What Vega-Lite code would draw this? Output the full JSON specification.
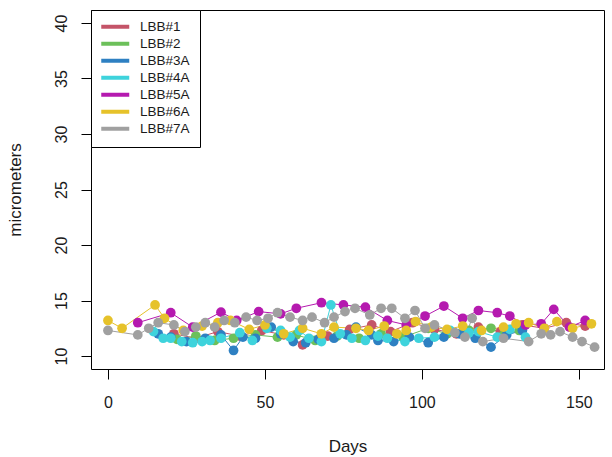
{
 "$schema": "https://vega.github.io/schema/vega-lite/v6.json",
 "width": 513, "height": 359,
 "autosize": {"type": "none"},
 "padding": {"left": 91, "top": 10, "right": 8, "bottom": 88},
 "background": "white",
 "config": {
  "view": {"stroke": "black", "strokeWidth": 1},
  "font": "Liberation Sans",
  "axis": {"domain": false, "grid": false, "tickColor": "black", "tickSize": 10, "labelFont": "Liberation Sans", "labelFontSize": 16, "labelColor": "#1a1a1a", "titleFont": "Liberation Sans", "titleFontSize": 17, "titleFontWeight": "normal", "titleColor": "#1a1a1a", "labelFlush": false},
  "legend": {"orient": "top-left", "offset": 0, "padding": 10, "strokeColor": "black", "fillColor": "white", "symbolType": "M-4,0L4,0", "symbolSize": 49, "symbolStrokeWidth": 4, "symbolOffset": 7.5, "labelFont": "Liberation Sans", "labelFontSize": 13.5, "labelColor": "#1a1a1a", "labelOffset": 18, "rowPadding": 0, "symbolOpacity": 1}
 },
 "data": {"values": [
  {"s":"LBB#1","d":21,"v":12.0},{"s":"LBB#1","d":28,"v":11.6},{"s":"LBB#1","d":35,"v":12.2},{"s":"LBB#1","d":42,"v":11.8},{"s":"LBB#1","d":49,"v":12.3},{"s":"LBB#1","d":56,"v":11.9},{"s":"LBB#1","d":62,"v":11.0},{"s":"LBB#1","d":70,"v":11.8},{"s":"LBB#1","d":77,"v":12.4},{"s":"LBB#1","d":84,"v":12.8},{"s":"LBB#1","d":90,"v":12.2},{"s":"LBB#1","d":97,"v":13.0},{"s":"LBB#1","d":104,"v":12.4},{"s":"LBB#1","d":111,"v":12.0},{"s":"LBB#1","d":118,"v":12.6},{"s":"LBB#1","d":125,"v":12.2},{"s":"LBB#1","d":132,"v":12.8},{"s":"LBB#1","d":139,"v":12.5},{"s":"LBB#1","d":146,"v":13.0},{"s":"LBB#1","d":152,"v":12.7},
  {"s":"LBB#2","d":22,"v":11.5},{"s":"LBB#2","d":28,"v":11.8},{"s":"LBB#2","d":34,"v":11.4},{"s":"LBB#2","d":40,"v":11.6},{"s":"LBB#2","d":47,"v":11.9},{"s":"LBB#2","d":54,"v":11.7},{"s":"LBB#2","d":60,"v":11.9},{"s":"LBB#2","d":66,"v":11.4},{"s":"LBB#2","d":73,"v":11.8},{"s":"LBB#2","d":80,"v":11.6},{"s":"LBB#2","d":87,"v":12.0},{"s":"LBB#2","d":94,"v":11.7},{"s":"LBB#2","d":102,"v":12.5},{"s":"LBB#2","d":108,"v":12.0},{"s":"LBB#2","d":115,"v":12.3},{"s":"LBB#2","d":122,"v":12.5},{"s":"LBB#2","d":126,"v":11.9},{"s":"LBB#2","d":131,"v":12.3},
  {"s":"LBB#3A","d":16,"v":12.0},{"s":"LBB#3A","d":20,"v":11.7},{"s":"LBB#3A","d":25,"v":11.3},{"s":"LBB#3A","d":31,"v":11.6},{"s":"LBB#3A","d":36,"v":11.9},{"s":"LBB#3A","d":40,"v":10.5},{"s":"LBB#3A","d":43,"v":11.7},{"s":"LBB#3A","d":47,"v":11.6},{"s":"LBB#3A","d":52,"v":12.6},{"s":"LBB#3A","d":55,"v":12.0},{"s":"LBB#3A","d":59,"v":11.3},{"s":"LBB#3A","d":63,"v":11.2},{"s":"LBB#3A","d":67,"v":11.5},{"s":"LBB#3A","d":72,"v":11.6},{"s":"LBB#3A","d":76,"v":11.9},{"s":"LBB#3A","d":79,"v":12.6},{"s":"LBB#3A","d":84,"v":11.9},{"s":"LBB#3A","d":86,"v":11.4},{"s":"LBB#3A","d":91,"v":11.3},{"s":"LBB#3A","d":96,"v":11.7},{"s":"LBB#3A","d":102,"v":11.2},{"s":"LBB#3A","d":107,"v":11.7},{"s":"LBB#3A","d":112,"v":12.0},{"s":"LBB#3A","d":117,"v":11.6},{"s":"LBB#3A","d":122,"v":10.8},{"s":"LBB#3A","d":127,"v":11.9},{"s":"LBB#3A","d":132,"v":12.3},
  {"s":"LBB#4A","d":14.5,"v":12.2},{"s":"LBB#4A","d":17.6,"v":11.6},{"s":"LBB#4A","d":20,"v":11.6},{"s":"LBB#4A","d":23.5,"v":11.3},{"s":"LBB#4A","d":27,"v":11.2},{"s":"LBB#4A","d":30,"v":11.3},{"s":"LBB#4A","d":32.5,"v":11.4},{"s":"LBB#4A","d":36,"v":11.6},{"s":"LBB#4A","d":42,"v":12.1},{"s":"LBB#4A","d":46,"v":11.4},{"s":"LBB#4A","d":50.6,"v":12.5},{"s":"LBB#4A","d":55,"v":12.3},{"s":"LBB#4A","d":58,"v":11.7},{"s":"LBB#4A","d":61,"v":12.3},{"s":"LBB#4A","d":64,"v":11.6},{"s":"LBB#4A","d":68,"v":11.3},{"s":"LBB#4A","d":71,"v":14.6},{"s":"LBB#4A","d":74,"v":12.0},{"s":"LBB#4A","d":77.7,"v":11.6},{"s":"LBB#4A","d":82,"v":11.4},{"s":"LBB#4A","d":86,"v":11.8},{"s":"LBB#4A","d":89,"v":11.6},{"s":"LBB#4A","d":94.6,"v":11.3},{"s":"LBB#4A","d":99,"v":11.6},{"s":"LBB#4A","d":104,"v":11.7},{"s":"LBB#4A","d":109,"v":12.3},{"s":"LBB#4A","d":115,"v":12.1},{"s":"LBB#4A","d":118,"v":12.2},{"s":"LBB#4A","d":124,"v":11.7},{"s":"LBB#4A","d":128,"v":12.4},{"s":"LBB#4A","d":133,"v":11.7},
  {"s":"LBB#5A","d":9.5,"v":13.0},{"s":"LBB#5A","d":20,"v":13.9},{"s":"LBB#5A","d":27,"v":12.6},{"s":"LBB#5A","d":36,"v":13.95},{"s":"LBB#5A","d":41,"v":13.2},{"s":"LBB#5A","d":48,"v":14.0},{"s":"LBB#5A","d":55,"v":13.8},{"s":"LBB#5A","d":60,"v":14.3},{"s":"LBB#5A","d":68,"v":14.8},{"s":"LBB#5A","d":75,"v":14.6},{"s":"LBB#5A","d":82,"v":14.4},{"s":"LBB#5A","d":89,"v":13.2},{"s":"LBB#5A","d":95,"v":12.8},{"s":"LBB#5A","d":101,"v":13.6},{"s":"LBB#5A","d":107,"v":14.5},{"s":"LBB#5A","d":113,"v":13.4},{"s":"LBB#5A","d":118,"v":14.1},{"s":"LBB#5A","d":124,"v":13.9},{"s":"LBB#5A","d":128,"v":13.6},{"s":"LBB#5A","d":133,"v":12.8},{"s":"LBB#5A","d":138,"v":12.9},{"s":"LBB#5A","d":142,"v":14.2},{"s":"LBB#5A","d":147,"v":12.6},{"s":"LBB#5A","d":152,"v":13.2},
  {"s":"LBB#6A","d":0,"v":13.2},{"s":"LBB#6A","d":4.5,"v":12.5},{"s":"LBB#6A","d":15,"v":14.6},{"s":"LBB#6A","d":18,"v":13.4},{"s":"LBB#6A","d":24,"v":12.3},{"s":"LBB#6A","d":30,"v":12.7},{"s":"LBB#6A","d":35,"v":13.0},{"s":"LBB#6A","d":39,"v":13.2},{"s":"LBB#6A","d":45,"v":12.4},{"s":"LBB#6A","d":50,"v":12.8},{"s":"LBB#6A","d":56,"v":12.0},{"s":"LBB#6A","d":62,"v":12.5},{"s":"LBB#6A","d":68,"v":12.0},{"s":"LBB#6A","d":72,"v":12.6},{"s":"LBB#6A","d":79,"v":12.5},{"s":"LBB#6A","d":83,"v":12.3},{"s":"LBB#6A","d":88,"v":12.7},{"s":"LBB#6A","d":92,"v":12.0},{"s":"LBB#6A","d":95,"v":12.3},{"s":"LBB#6A","d":98,"v":13.1},{"s":"LBB#6A","d":103,"v":12.6},{"s":"LBB#6A","d":108,"v":12.4},{"s":"LBB#6A","d":113,"v":12.7},{"s":"LBB#6A","d":119,"v":12.3},{"s":"LBB#6A","d":126,"v":12.6},{"s":"LBB#6A","d":130,"v":12.9},{"s":"LBB#6A","d":134,"v":13.0},{"s":"LBB#6A","d":139,"v":12.5},{"s":"LBB#6A","d":143,"v":13.1},{"s":"LBB#6A","d":148,"v":12.5},{"s":"LBB#6A","d":154,"v":12.9},
  {"s":"LBB#7A","d":0,"v":12.3},{"s":"LBB#7A","d":9.5,"v":11.9},{"s":"LBB#7A","d":13,"v":12.5},{"s":"LBB#7A","d":16,"v":13.0},{"s":"LBB#7A","d":21,"v":12.8},{"s":"LBB#7A","d":24.5,"v":12.2},{"s":"LBB#7A","d":28,"v":12.6},{"s":"LBB#7A","d":31,"v":13.0},{"s":"LBB#7A","d":34,"v":12.6},{"s":"LBB#7A","d":37,"v":13.2},{"s":"LBB#7A","d":40.4,"v":13.0},{"s":"LBB#7A","d":44,"v":13.5},{"s":"LBB#7A","d":47.5,"v":13.2},{"s":"LBB#7A","d":51,"v":13.4},{"s":"LBB#7A","d":54,"v":13.9},{"s":"LBB#7A","d":58,"v":13.5},{"s":"LBB#7A","d":62,"v":13.2},{"s":"LBB#7A","d":65,"v":13.5},{"s":"LBB#7A","d":69,"v":13.0},{"s":"LBB#7A","d":72,"v":13.5},{"s":"LBB#7A","d":75.5,"v":14.0},{"s":"LBB#7A","d":78.7,"v":14.3},{"s":"LBB#7A","d":83.4,"v":13.7},{"s":"LBB#7A","d":87,"v":14.3},{"s":"LBB#7A","d":90.4,"v":14.3},{"s":"LBB#7A","d":94.6,"v":13.4},{"s":"LBB#7A","d":97.8,"v":14.1},{"s":"LBB#7A","d":101,"v":12.5},{"s":"LBB#7A","d":104,"v":12.8},{"s":"LBB#7A","d":110.5,"v":12.1},{"s":"LBB#7A","d":113.7,"v":11.7},{"s":"LBB#7A","d":116,"v":13.4},{"s":"LBB#7A","d":119.4,"v":11.3},{"s":"LBB#7A","d":126,"v":11.6},{"s":"LBB#7A","d":134,"v":11.3},{"s":"LBB#7A","d":138,"v":12.0},{"s":"LBB#7A","d":141,"v":11.9},{"s":"LBB#7A","d":144,"v":12.2},{"s":"LBB#7A","d":148,"v":11.7},{"s":"LBB#7A","d":151,"v":11.3},{"s":"LBB#7A","d":155,"v":10.8}
 ]},
 "encoding": {
  "x": {"field": "d", "type": "quantitative", "title": "Days", "scale": {"domain": [-5.4, 158], "nice": false, "zero": false}, "axis": {"values": [0, 50, 100, 150], "labelPadding": 15, "titlePadding": 28}},
  "y": {"field": "v", "type": "quantitative", "title": "micrometers", "scale": {"domain": [8.83, 41.17], "nice": false, "zero": false}, "axis": {"values": [10, 15, 20, 25, 30, 35, 40], "labelAngle": 270, "labelAlign": "center", "labelBaseline": "alphabetic", "labelPadding": 15, "titlePadding": 29}},
  "color": {"field": "s", "type": "nominal", "title": null, "scale": {"domain": ["LBB#1", "LBB#2", "LBB#3A", "LBB#4A", "LBB#5A", "LBB#6A", "LBB#7A"], "range": ["#c45468", "#6cc05a", "#2e80c2", "#3ed3dc", "#b51aaf", "#e6c22a", "#a0a0a0"]}}
 },
 "layer": [
  {"mark": {"type": "line", "strokeWidth": 1}},
  {"mark": {"type": "point", "filled": true, "size": 95, "opacity": 1}}
 ]
}
